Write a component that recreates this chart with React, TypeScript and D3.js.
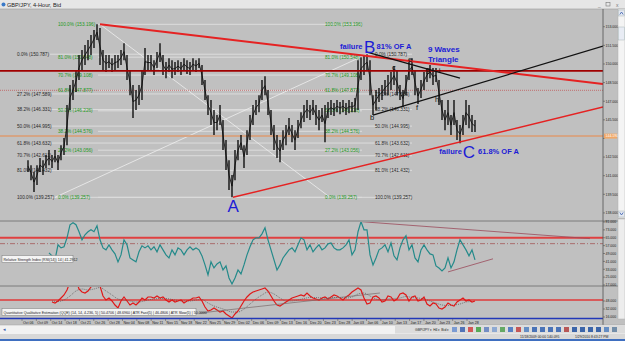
import React from 'react';
import * as d3 from 'd3';

// ---------- DATA ----------
const barHigh = [
  142.25, 141.85, 141.29, 141.85, 142.42, 142.25, 142.66, 143.06, 142.66, 143.06,
  142.66, 143.46, 144.03, 146.69, 148.30, 148.70, 149.51, 150.72, 151.12, 151.52,
  151.93, 152.33, 152.73, 153.20, 152.89, 151.12, 150.72, 150.72, 150.47, 150.72,
  150.72, 151.12, 151.68, 150.72, 149.51, 148.30, 147.90, 148.30, 149.51, 151.28,
  150.72, 150.72, 150.31, 150.96, 151.68, 150.72, 150.15, 150.47, 150.31, 150.15,
  150.31, 150.15, 150.47, 150.31, 150.15, 150.47, 150.31, 150.47, 149.91, 148.70,
  147.49, 147.09, 146.29, 145.88, 146.69, 145.48, 143.87, 142.25, 141.05, 143.06,
  143.87, 144.27, 143.46, 144.67, 145.88, 146.69, 147.09, 147.49, 148.70, 149.02,
  147.90, 146.29, 145.08, 144.27, 143.87, 144.67, 145.08, 145.64, 145.08, 144.67,
  145.48, 146.12, 146.69, 147.09, 146.69, 147.09, 146.69, 146.29, 146.45, 146.69,
  146.93, 147.09, 146.85, 147.09, 146.93, 147.09, 146.85, 147.09, 146.93, 147.25,
  150.31, 150.55, 150.70, 150.79, 150.31, 147.49, 147.90, 148.06, 148.30, 148.70,
  149.11, 149.35, 149.83, 149.51, 148.30, 147.90, 149.11, 150.15, 150.47, 149.51,
  148.06, 148.70, 149.35, 149.67, 149.91, 149.67, 149.67, 148.70, 147.09, 146.29,
  147.09, 145.88, 147.09, 145.48, 145.08, 145.88, 147.09, 146.69, 145.88, 145.48,
];
const barLow = [
  141.29, 140.64, 139.68, 140.24, 141.29, 141.05, 141.61, 141.85, 141.61, 142.09,
  141.45, 142.25, 142.66, 143.46, 146.29, 147.09, 147.74, 148.70, 149.51, 149.91,
  150.31, 150.72, 151.28, 151.93, 149.91, 149.51, 149.35, 149.67, 149.35, 149.51,
  149.67, 149.91, 150.31, 148.70, 147.49, 145.64, 146.29, 146.69, 147.09, 149.11,
  149.51, 149.51, 149.11, 149.67, 150.15, 149.11, 148.86, 149.35, 148.86, 149.11,
  149.35, 149.11, 149.51, 149.19, 149.11, 149.51, 149.35, 149.67, 148.30, 147.09,
  145.88, 145.08, 144.27, 144.67, 145.08, 143.06, 141.45, 139.84, 139.26, 140.64,
  142.25, 143.06, 141.61, 142.66, 143.87, 145.08, 145.88, 146.12, 147.09, 147.49,
  145.88, 144.27, 143.06, 142.42, 142.09, 143.06, 143.46, 144.27, 143.70, 143.06,
  144.03, 144.83, 145.32, 145.64, 145.48, 145.88, 145.08, 144.67, 145.32, 143.70,
  145.64, 145.88, 145.80, 146.12, 145.96, 146.12, 145.88, 146.04, 146.12, 146.12,
  146.29, 148.70, 149.11, 149.51, 147.49, 145.88, 146.29, 146.93, 147.09, 147.49,
  147.49, 147.90, 148.30, 147.49, 147.09, 146.53, 147.49, 148.70, 149.11, 147.49,
  146.77, 147.25, 147.90, 148.54, 148.86, 148.30, 148.54, 146.69, 145.48, 144.67,
  145.08, 144.27, 145.08, 143.87, 143.62, 144.27, 145.08, 144.83, 144.51, 144.51,
];
const rsiStart = 7;
const rsiValues = [
  49.6, 46.6, 42.5, 57.8, 54.7, 55.8, 64.9, 78.2, 80.2, 78.2,
  71.1, 62.9, 68.0, 71.1, 73.1, 71.1, 77.1, 62.9, 54.7, 52.7,
  57.8, 52.7, 48.6, 40.5, 47.6, 62.9, 57.8, 44.5, 42.5, 40.5,
  50.7, 56.8, 54.7, 56.8, 52.7, 55.8, 50.7, 57.8, 52.7, 47.6,
  44.5, 52.7, 47.6, 54.7, 52.7, 47.6, 52.7, 55.8, 52.7, 54.7,
  52.7, 46.6, 37.4, 27.2, 40.5, 34.3, 38.4, 40.5, 32.3, 36.4,
  24.1, 18.0, 24.1, 32.3, 28.2, 37.4, 47.6, 55.8, 62.9, 64.9,
  64.9, 69.0, 75.1, 62.9, 52.7, 42.5, 32.3, 37.4, 44.5, 48.6,
  52.7, 54.7, 50.7, 57.8, 64.9, 62.9, 52.7, 57.8, 50.7, 54.7,
  57.8, 52.7, 54.7, 58.8, 59.8, 54.7, 52.7, 52.7, 54.7, 57.8,
  62.9, 47.6, 52.7, 71.1, 81.3, 73.1, 73.1, 47.6, 37.4, 44.5,
  52.7, 54.7, 57.8, 50.7, 59.8, 46.6, 42.5, 54.7, 62.9, 67.0,
  52.7, 57.8, 44.5, 40.5, 52.7, 57.8, 52.7, 48.6, 47.6, 36.4,
  34.3, 31.3, 34.3, 44.5, 34.3, 40.5, 52.7, 62.9, 57.8, 52.7,
  46.6, 52.7, 42.5,
];
const qqeStart = 8;
const qqeValues = [
  46, 44, 48, 54, 60, 70, 86, 94, 90, 72,
  66, 64, 68, 76, 86, 90, 78, 58, 50, 54,
  48, 40, 34, 48, 56, 48, 40, 44, 40, 46,
  54, 50, 56, 56, 54, 58, 54, 56, 50, 46,
  50, 46, 48, 50, 44, 48, 50, 54, 54, 56,
  48, 36, 28, 30, 34, 30, 26, 28, 22, 18,
  14, 22, 28, 38, 48, 56, 62, 66, 68, 70,
  72, 74, 68, 58, 48, 40, 38, 42, 46, 50,
  54, 56, 58, 60, 58, 64, 58, 54, 52, 50,
  54, 56, 52, 56, 60, 58, 54, 50, 56, 60,
  66, 70, 74, 70, 54, 42, 44, 56, 58, 54,
  46, 48, 58, 56, 48, 52, 62, 64, 60, 48,
  56, 58, 48, 50, 56, 42, 38, 44, 42, 34,
  32, 36, 44, 40, 38, 46, 50, 54, 48, 50,
  46, 48,
];
const qqeSignal = [
  48, 47, 50, 58, 68, 72, 70, 72, 75, 68,
  60, 52, 50, 48, 46, 47, 50, 52, 53, 53,
  51, 49, 48, 48, 50, 51, 44, 38, 34, 30,
  26, 26, 32, 42, 52, 60, 66, 62, 54, 48,
  48, 50, 53, 55, 55, 54, 54, 55, 55, 54,
  56, 62, 64, 58, 52, 50, 52, 53, 54, 57,
  55, 54, 52, 48, 44, 40, 39, 40, 42, 46,
  47,
];
const priceTicks = [153, 151.5, 150, 148.5, 147, 145.5, 144, 142.5, 141, 139.5, 138];
const rsiTicks = [81, 73, 65, 57, 49, 41, 33, 25, 17];
const qqeTicks = [48, 32, 16];
const dateLabels = [
  'Oct 06', 'Oct 09', 'Oct 14', 'Oct 18', 'Oct 21', 'Oct 26', 'Oct 28', 'Nov 04',
  'Nov 08', 'Nov 11', 'Nov 15', 'Nov 18', 'Nov 22', 'Nov 25', 'Nov 29', 'Dec 02',
  'Dec 06', 'Dec 09', 'Dec 13', 'Dec 16', 'Dec 20', 'Dec 23', 'Dec 28', 'Jan 03',
  'Jan 06', 'Jan 10', 'Jan 13', 'Jan 17', 'Jan 20', 'Jan 23', 'Jan 26', 'Jan 28',
];
const greenFibLevels = [100, 81, 70.7, 61.8, 50, 38.2, 27.2, 0];
const greenFibPrices = [153.196, 150.548, 149.108, 147.877, 146.226, 144.576, 143.056, 139.257];
const darkFibLevels = [0, 27.2, 38.2, 50, 61.8, 70.7, 81, 100];
const darkFibPrices = [150.787, 147.589, 146.331, 144.995, 143.632, 142.611, 141.432, 139.257];
const levelMaroon = 149.45;
const levelDotted = 147.88;
const levelOrange = 144.19;
const rsiLevelHigh = 65;
const rsiLevelMid = 59;
const qqeLevel = 50;
// trendlines: [idx1, value1, idx2, value2]
const priceTrendRed = [[24, 153.196, 191.67, 148.38], [68.33, 139.26, 191.67, 146.53]];
const priceTrendBlack = [[115, 145.88, 191.67, 151.44], [113, 150.96, 144, 148.86]];
const fibDiagonals = [[24, 153.196, 100.67, 139.257], [9, 139.257, 113, 150.787]];
const rsiTrend = [[111.3, 81.3, 187.3, 64.1], [140, 30.3, 155, 43.6]];
const qqeTrend = [[57.3, 24, 117.3, 64]];
const blueNotes = [
  { t: 'failure', i: 104, p: 151.2, s: 7.5, w: 700 },
  { t: 'B', i: 112, p: 150.88, s: 17, w: 400 },
  { t: '81% OF A', i: 116.2, p: 151.2, s: 7.5, w: 700 },
  { t: '9 Waves', i: 133.3, p: 151.0, s: 8, w: 700 },
  { t: 'Triangle', i: 133.3, p: 150.2, s: 8, w: 700 },
  { t: 'A', i: 66.5, p: 138.06, s: 17, w: 400 },
  { t: 'failure', i: 137.1, p: 142.74, s: 7.5, w: 700 },
  { t: 'C', i: 144.9, p: 142.45, s: 17, w: 400 },
  { t: '61.8% OF A', i: 150.0, p: 142.74, s: 7.5, w: 700 },
];
const waveNotes = [
  { t: 'b', i: 114, p: 145.45 },
  { t: 'c', i: 121.3, p: 149.55 },
  { t: 'e', i: 126.7, p: 150.2 },
  { t: 'f', i: 129.3, p: 146.3 },
  { t: 'g', i: 132.6, p: 149.35 },
  { t: 'h', i: 135.7, p: 146.9 },
  { t: 'i', i: 136.9, p: 149.3 },
];

const FONT = '"Liberation Sans", Arial, sans-serif';

export default function App() {
  const W = 625, H = 341;
  const axisX = 603;
  const x = d3.scaleLinear().domain([0, 149]).range([28, 475]);
  const yP = d3.scaleLinear().domain([137.43, 154.43]).range([220, 9]);
  const yR = d3.scaleLinear().domain([17, 81]).range([285, 222]);
  const yQ = d3.scaleLinear().domain([16, 76]).range([317, 287]);
  const xd = d3.scalePoint<string>().domain(dateLabels).range([23, 468]);
  const f3 = d3.format('.3f');

  const rsiLine = d3.line<number>().x((_, i) => x(i + rsiStart)).y(v => yR(v))(rsiValues) || '';
  const qqeLine = d3.line<number>().x((_, i) => x(i + qqeStart)).y(v => yQ(v))(qqeValues) || '';
  const sigLine = d3.line<number>().x((_, i) => x(qqeStart + i * 2)).y(v => yQ(v)).curve(d3.curveMonotoneX)(qqeSignal) || '';
  const midLine = d3.line<number>().x((_, i) => x(i)).y((h, i) => yP((h + barLow[i]) / 2))(barHigh) || '';

  const blue = '#1c1cd6';
  const toolbarColors = ['#6a8fd0', '#3a60b0', '#d04040', '#40a040', '#6080c0', '#80a0d0', '#50a050', '#4070c0', '#c04040',
    '#5080c0', '#3060b0', '#3060b0', '#3060b0', '#3060b0', '#b04040', '#2050a0', '#2050a0', '#2050a0', '#2050a0', '#5080c0', '#6080a0'];
  const oy = yP(levelOrange);

  return (
    <svg width={W} height={H} style={{ position: 'absolute', left: 0, top: 0, display: 'block' }} fontFamily={FONT}>
      <defs>
        <clipPath id="cpMain"><rect x={0} y={9} width={axisX} height={211} /></clipPath>
        <clipPath id="cpRsi"><rect x={0} y={222} width={axisX} height={64} /></clipPath>
        <clipPath id="cpQqe"><rect x={0} y={287} width={axisX} height={31} /></clipPath>
      </defs>
      <rect x={0} y={0} width={W} height={H} fill="#c0c0c0" />
      {/* title bar */}
      <rect x={0} y={0} width={W} height={9} fill="#e6e6e6" />
      <line x1={0} x2={W} y1={9} y2={9} stroke="#9a9a9a" strokeWidth={0.6} />
      <circle cx={3.5} cy={4.5} r={2} fill="#3a7ac8" />
      <text x={7} y={6.8} fontSize={5.6} fill="#222">GBP/JPY, 4-Hour, Bid</text>
      <text x={598} y={6.5} fontSize={5} fill="#777">_</text>
      <rect x={606} y={2.5} width={4} height={3.5} fill="none" stroke="#777" strokeWidth={0.6} />
      <text x={616} y={6.5} fontSize={5} fill="#777">x</text>

      {/* main panel */}
      <g clipPath="url(#cpMain)">
        {darkFibPrices.map((p, k) => (
          <line key={'dl' + k} x1={x(7.33)} x2={x(128)} y1={yP(p)} y2={yP(p)} stroke="#dcdcdc" strokeWidth={1} />
        ))}
        {greenFibPrices.map((p, k) => (
          <line key={'gl' + k} x1={x(23.33)} x2={x(111.33)} y1={yP(p)} y2={yP(p)} stroke="#dcdcdc" strokeWidth={1} />
        ))}
        {fibDiagonals.map((d, k) => (
          <line key={'fd' + k} x1={x(d[0])} y1={yP(d[1])} x2={x(d[2])} y2={yP(d[3])} stroke="#efefef" strokeWidth={0.8} />
        ))}
        <line x1={0} x2={axisX} y1={oy} y2={oy} stroke="#d9a07a" strokeWidth={2} opacity={0.85} />
        <line x1={0} x2={axisX} y1={yP(levelDotted)} y2={yP(levelDotted)} stroke="#c05858" strokeWidth={0.8} strokeDasharray="1,1" />
        {darkFibPrices.map((p, k) => {
          const s = `${darkFibLevels[k].toFixed(1)}% (${f3(p)})`;
          return (
            <g key={'dt' + k}>
              <text x={x(-3.67)} y={yP(p) + 1.6} fontSize={4.7} fill="#2a2a2a">{s}</text>
              <text x={x(115.67)} y={yP(p) + 1.6} fontSize={4.7} fill="#2a2a2a">{s}</text>
            </g>
          );
        })}
        {greenFibPrices.map((p, k) => {
          const s = `${greenFibLevels[k].toFixed(1)}% (${f3(p)})`;
          return (
            <g key={'gt' + k}>
              <text x={x(10)} y={yP(p) + 1.6} fontSize={4.7} fill="#1f9a1f">{s}</text>
              <text x={x(99)} y={yP(p) + 1.6} fontSize={4.7} fill="#1f9a1f">{s}</text>
            </g>
          );
        })}
        {/* price bars */}
        <path d={midLine} fill="none" stroke="#151515" strokeWidth={0.9} />
        {barHigh.map((h, i) => (
          <line key={'b' + i} x1={x(i)} x2={x(i)} y1={yP(h)} y2={yP(barLow[i])} stroke="#111" strokeWidth={1.4} />
        ))}
        <line x1={0} x2={axisX} y1={yP(levelMaroon)} y2={yP(levelMaroon)} stroke="#a00000" strokeWidth={1.8} />
        {priceTrendRed.map((d, k) => (
          <line key={'tr' + k} x1={x(d[0])} y1={yP(d[1])} x2={x(d[2])} y2={yP(d[3])} stroke="#e52222" strokeWidth={k === 0 ? 2 : 1.5} />
        ))}
        {priceTrendBlack.map((d, k) => (
          <line key={'tb' + k} x1={x(d[0])} y1={yP(d[1])} x2={x(d[2])} y2={yP(d[3])} stroke="#111" strokeWidth={1.2} />
        ))}
        {waveNotes.map((n, k) => (
          <text key={'w' + k} x={x(n.i)} y={yP(n.p)} fontSize={7.5} fill="#111">{n.t}</text>
        ))}
        {blueNotes.map((n, k) => (
          <text key={'n' + k} x={x(n.i)} y={yP(n.p)} fontSize={n.s} fontWeight={n.w} fill={blue}>{n.t}</text>
        ))}
      </g>

      {/* RSI panel */}
      <line x1={0} x2={618} y1={221} y2={221} stroke="#6a6a6a" strokeWidth={0.8} />
      <g clipPath="url(#cpRsi)">
        <line x1={0} x2={axisX} y1={yR(rsiLevelHigh)} y2={yR(rsiLevelHigh)} stroke="#e04040" strokeWidth={1.8} />
        <line x1={0} x2={axisX} y1={yR(rsiLevelMid)} y2={yR(rsiLevelMid)} stroke="#a04848" strokeWidth={0.7} strokeDasharray="5,2,1,2" />
        <path d={rsiLine} fill="none" stroke="#248a8a" strokeWidth={1.2} />
        {rsiTrend.map((d, k) => (
          <line key={'rt' + k} x1={x(d[0])} y1={yR(d[1])} x2={x(d[2])} y2={yR(d[3])} stroke="#9a4a5a" strokeWidth={0.8} />
        ))}
        <rect x={2} y={255.5} width={71} height={7} fill="#f4f4f4" stroke="#777" strokeWidth={0.5} />
        <text x={3.5} y={260.6} fontSize={3.6} fill="#222">Relative Strength Index (RSI(14)) 14 | 41.2912</text>
      </g>

      {/* QQE panel */}
      <line x1={0} x2={618} y1={286} y2={286} stroke="#6a6a6a" strokeWidth={0.8} />
      <g clipPath="url(#cpQqe)">
        <line x1={0} x2={axisX} y1={yQ(qqeLevel)} y2={yQ(qqeLevel)} stroke="#e03a3a" strokeWidth={1.4} />
        <path d={sigLine} fill="none" stroke="#555" strokeWidth={0.7} strokeDasharray="1,1" />
        <path d={qqeLine} fill="none" stroke="#e01818" strokeWidth={1.2} />
        {qqeTrend.map((d, k) => (
          <line key={'qt' + k} x1={x(d[0])} y1={yQ(d[1])} x2={x(d[2])} y2={yQ(d[3])} stroke="#7a6a6a" strokeWidth={0.7} />
        ))}
        <rect x={2} y={308.5} width={194} height={7} fill="#f4f4f4" stroke="#777" strokeWidth={0.5} />
        <text x={3.5} y={313.6} fontSize={3.6} fill="#222">Quantitative Qualitative Estimation (QQE) (14, 14, 4.236, 5) | 50.4706 | 48.6960 | ATR Fast(5) | 46.4806 | ATR Slow(5) | 50.0000</text>
      </g>
      <line x1={0} x2={axisX} y1={318.5} y2={318.5} stroke="#2238b8" strokeWidth={1.4} />

      {/* right axis */}
      <line x1={axisX} x2={axisX} y1={9} y2={325} stroke="#505050" strokeWidth={0.8} />
      {priceTicks.map((t, k) => (
        <g key={'pt' + k}>
          <line x1={axisX} x2={axisX + 2} y1={yP(t)} y2={yP(t)} stroke="#505050" strokeWidth={0.6} />
          {Math.abs(yP(t) - oy) > 4 && (
            <text x={axisX + 2.5} y={yP(t) + 1.3} fontSize={3.5} fill="#222">{f3(t)}</text>
          )}
        </g>
      ))}
      <rect x={axisX + 1} y={oy - 2.5} width={13} height={5} fill="#f0a868" />
      <text x={axisX + 2.5} y={oy + 1.3} fontSize={3.5} fill="#fff">{f3(levelOrange)}</text>
      {rsiTicks.map((t, k) => (
        <g key={'rk' + k}>
          <line x1={axisX} x2={axisX + 2} y1={yR(t)} y2={yR(t)} stroke="#505050" strokeWidth={0.6} />
          <text x={axisX + 2.5} y={yR(t) + 1.3} fontSize={3.5} fill="#222">{f3(t)}</text>
        </g>
      ))}
      {qqeTicks.map((t, k) => (
        <g key={'qk' + k}>
          <line x1={axisX} x2={axisX + 2} y1={yQ(t)} y2={yQ(t)} stroke="#505050" strokeWidth={0.6} />
          <text x={axisX + 2.5} y={yQ(t) + 1.3} fontSize={3.5} fill="#222">{f3(t)}</text>
        </g>
      ))}
      {/* scrollbar */}
      <rect x={618} y={9} width={7} height={209} fill="#f4f4f4" stroke="#b0b0b0" strokeWidth={0.5} />
      <rect x={618.5} y={10} width={6} height={6} fill="#e4e8f0" stroke="#9aa" strokeWidth={0.4} />
      <path d="M619.8,14.5 L621.5,12 L623.2,14.5" fill="none" stroke="#3a60b0" strokeWidth={0.8} />
      <rect x={618.5} y={27} width={6} height={13} fill="#e8ecf4" stroke="#9aa" strokeWidth={0.4} />
      <rect x={618.5} y={211} width={6} height={6} fill="#e4e8f0" stroke="#9aa" strokeWidth={0.4} />
      <path d="M619.8,212.5 L621.5,215 L623.2,212.5" fill="none" stroke="#3a60b0" strokeWidth={0.8} />
      <rect x={618} y={219} width={7} height={100} fill="#ededed" stroke="#b0b0b0" strokeWidth={0.5} />

      {/* date axis */}
      {dateLabels.map((d, k) => (
        <g key={'d' + k}>
          <line x1={(xd(d) || 0) - 1} x2={(xd(d) || 0) - 1} y1={319} y2={321} stroke="#505050" strokeWidth={0.5} />
          <text x={xd(d)} y={323.5} fontSize={3.6} fill="#222">{d}</text>
        </g>
      ))}

      {/* bottom bars */}
      <rect x={0} y={325} width={W} height={9} fill="#f2f2f2" />
      <line x1={0} x2={W} y1={325} y2={325} stroke="#a0a0a0" strokeWidth={0.5} />
      <text x={2.5} y={330.5} fontSize={4.5} fill="#3a60b0">◂</text>
      <rect x={395} y={325.5} width={230} height={8} fill="#dcdcdc" />
      <text x={415} y={331} fontSize={3.4} fill="#222">GBP/JPY ▾  H4 ▾  Bid ▾</text>
      {toolbarColors.map((c, k) => (
        <rect key={'tb' + k} x={452 + k * 8} y={327} width={5} height={5} fill={c} opacity={0.85} />
      ))}
      <rect x={0} y={334} width={W} height={5} fill="#d8d8d8" />
      <text x={520} y={337.8} fontSize={3.4} fill="#222">11/18/2009 00:00   140.095</text>
      <text x={575} y={337.8} fontSize={3.4} fill="#222">1/29/2010 8:43:27 PM</text>
      <rect x={0} y={339} width={W} height={2} fill="#3f6fc0" />
    </svg>
  );
}
